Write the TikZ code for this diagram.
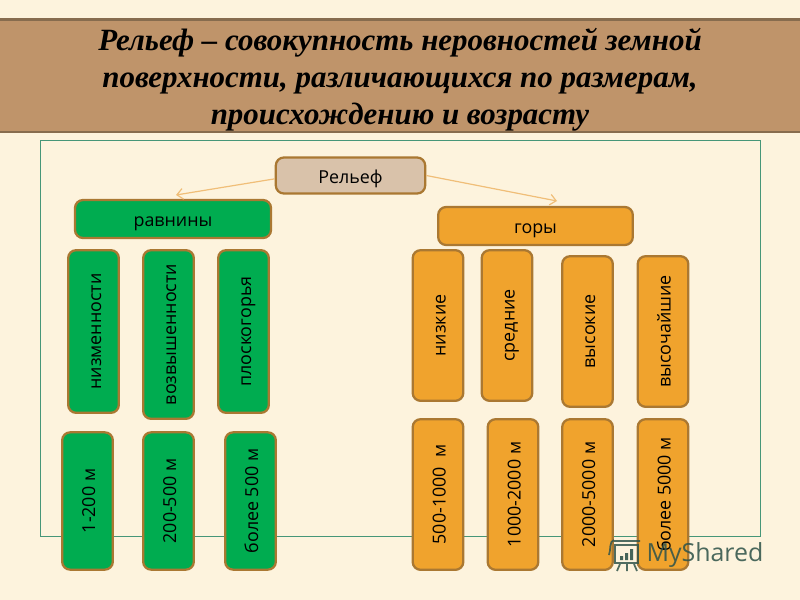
\documentclass[tikz,border=0pt]{standalone}
\usepackage{fontspec}
\setmainfont{Liberation Serif}
\setsansfont{Open Sans}
\newfontfamily\markfont{Open Sans}
\usetikzlibrary{arrows.meta}

\definecolor{paper}{RGB}{253,243,221}
\definecolor{framegreen}{RGB}{70,150,120}
\definecolor{titlefill}{RGB}{191,148,106}
\definecolor{titleline}{RGB}{135,108,78}
\definecolor{edgebrown}{RGB}{170,120,50}
\definecolor{plaingreen}{RGB}{0,172,80}
\definecolor{mountorange}{RGB}{240,163,45}
\definecolor{rootfill}{RGB}{217,194,170}
\definecolor{arrowtan}{RGB}{240,190,120}
\definecolor{markgrey}{RGB}{50,85,75}

\tikzset{
  every picture/.style={line width=0.75pt},
  box/.style={draw=edgebrown,line width=1.7pt,rounded corners=6pt,inner sep=0pt,
    text height=14pt,text depth=2.4pt,
    font=\sffamily\fontsize{13.4}{15}\selectfont,text=black},
  flatgreen/.style={box,fill=plaingreen,minimum width=147pt,minimum height=28.5pt},
  flatorange/.style={box,fill=mountorange,minimum width=146pt,minimum height=28.5pt},
  uprightbox/.style={box,rotate=90,minimum height=38pt},
  plainbox/.style={uprightbox,fill=plaingreen},
  mountbox/.style={uprightbox,fill=mountorange},
  branch/.style={arrowtan,line width=0.9pt,-{Straight Barb[length=4.5pt,width=8pt]}},
}

\begin{document}
\begin{tikzpicture}[x=0.75pt,y=0.75pt,yscale=-1,xscale=1]
\useasboundingbox (0,0) rectangle (800,600);
\fill [paper] (0,0) rectangle (800,600);

% title
\draw [fill=titlefill,draw=titleline,line width=1.6pt] (-2,19.5) rectangle (802,132);
\node (title) [align=center,font=\fontsize{23.2}{27.8}\selectfont\bfseries\itshape] at (400,80)
  {Рельеф – совокупность неровностей земной\\поверхности, различающихся по размерам,\\происхождению и возрасту};

% frame
\draw [framegreen,line width=0.5pt] (40,140) rectangle (760,536);

% top level
\node (relief) [box,fill=rootfill,minimum width=112pt,minimum height=27pt] at (350.5,175.5) {Рельеф};
\node (plains) [flatgreen] at (173,219) {равнины};
\node (mountains) [flatorange] at (535.5,226) {горы};
\coordinate (plainsend) at (176,195);
\coordinate (mountainsend) at (557,201);
\draw [branch] ([yshift=2.5pt]relief.west) -- (plainsend);
\draw [branch] (relief.east) -- (mountainsend);

% plains
\node (lowland) [plainbox,minimum width=122pt] at (93.5,331.5) {низменности};
\node (upland) [plainbox,minimum width=126.5pt] at (168.5,334.5) {возвышенности};
\node (plateau) [plainbox,minimum width=122pt] at (243.5,331.5) {плоскогорья};
\node (lowh) [plainbox,minimum width=103pt] at (87.5,501) {1-200 м};
\node (uph) [plainbox,minimum width=103pt] at (168.5,501) {200-500 м};
\node (plateauh) [plainbox,minimum width=103pt] at (250.5,501) {более 500 м};

% mountains
\node (low) [mountbox,minimum width=113pt] at (438,325.5) {низкие};
\node (mid) [mountbox,minimum width=113pt] at (507,325.5) {средние};
\node (high) [mountbox,minimum width=113pt] at (587.5,331.5) {высокие};
\node (highest) [mountbox,minimum width=113pt] at (663,331.5) {высочайшие};
\node (lowm) [mountbox,minimum width=113pt] at (438,494.5) {500-1000 ~м};
\node (midm) [mountbox,minimum width=113pt] at (513,494.5) {1000-2000 м};
\node (highm) [mountbox,minimum width=113pt] at (587.5,494.5) {2000-5000 м};
\node (highestm) [mountbox,minimum width=113pt] at (663,494.5) {более 5000 м};

% watermark
\draw [markgrey,line width=1.3pt,opacity=0.85] (614,541) -- (640,541) (615,545) rectangle (638,563)
  (620,564) -- (617,571) (627,564) -- (627,571) (634,564) -- (637,571)
  (614,540) .. controls (609,541) and (611,550) .. (609,555);
\fill [markgrey,opacity=0.9] (620,556) rectangle (623,560) (625,553) rectangle (628,560) (630,549) rectangle (633,560);
\node (mark) [anchor=west,inner sep=0pt,text=markgrey,opacity=0.88,font=\markfont\fontsize{18.7}{22}\selectfont] at (646,555) {MyShared};
\end{tikzpicture}
\end{document}
